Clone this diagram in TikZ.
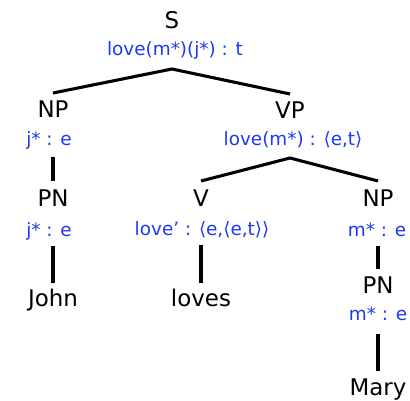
\documentclass[tikz,border=0pt]{standalone}
\usepackage{fontspec}
\setmainfont{DejaVu Sans}
\usetikzlibrary{calc}
\definecolor{semblue}{RGB}{30,58,240}
\tikzset{
  cat/.style={anchor=base, inner sep=0pt, font=\fontsize{17.2}{20}\selectfont},
  sem/.style={anchor=base, inner sep=0pt, text=semblue, font=\fontsize{13.8}{16}\selectfont},
  edge/.style={line width=2.3pt},
}
\begin{document}
\begin{tikzpicture}[x=0.75pt, y=-0.75pt]
  \useasboundingbox (0,0) rectangle (410,400);
  % category labels
  \node[cat] (S)     at (172,28)  {S};
  \node[cat] (NPj)   at (53,117)  {NP};
  \node[cat] (VP)    at (290,118) {VP};
  \node[cat] (PNj)   at (53,206)  {PN};
  \node[cat] (V)     at (201,206) {V};
  \node[cat] (NPm)   at (378,206) {NP};
  \node[cat] (PNm)   at (378,293) {PN};
  \node[cat] (John)  at (53,306)  {John};
  \node[cat] (loves) at (201,306) {loves};
  \node[cat] (Mary)  at (378,395) {Mary};
  % semantic annotations
  \node[sem] (sS)   at (175,55)   {love(m*)(j*) : t};
  \node[sem] (sNPj) at (49,145)   {j* : e};
  \node[sem] (sVP)  at (293,145)  {love(m*) : ⟨e,t⟩};
  \node[sem] (sPNj) at (49,236)   {j* : e};
  \node[sem] (sV)   at (202,235)  {love’ : ⟨e,⟨e,t⟩⟩};
  \node[sem] (sNPm) at (377,236)  {m* : e};
  \node[sem] (sPNm) at (378,320)  {m* : e};
  % branches
  \draw[edge] ($(NPj.base)+(0,-24)$) -- ($(S.base |- sS.base)+(0,14)$) -- ($(VP.base)+(0,-24)$);
  \draw[edge] ($(V.base)+(0,-25)$) -- ($(VP.base |- sVP.base)+(0,13)$) -- ($(NPm.base)+(0,-25)$);
  \draw[edge] ($(NPj.base |- sNPj.base)+(0,12)$) -- ($(PNj.base)+(0,-25)$);
  \draw[edge] ($(PNj.base |- sPNj.base)+(0,10)$) -- ($(John.base)+(0,-23)$);
  \draw[edge] ($(V.base |- sV.base)+(0,10)$) -- ($(loves.base)+(0,-23)$);
  \draw[edge] ($(NPm.base |- sNPm.base)+(0,10)$) -- ($(PNm.base)+(0,-24)$);
  \draw[edge] ($(PNm.base |- sPNm.base)+(0,14)$) -- ($(Mary.base)+(0,-24)$);
\end{tikzpicture}
\end{document}
